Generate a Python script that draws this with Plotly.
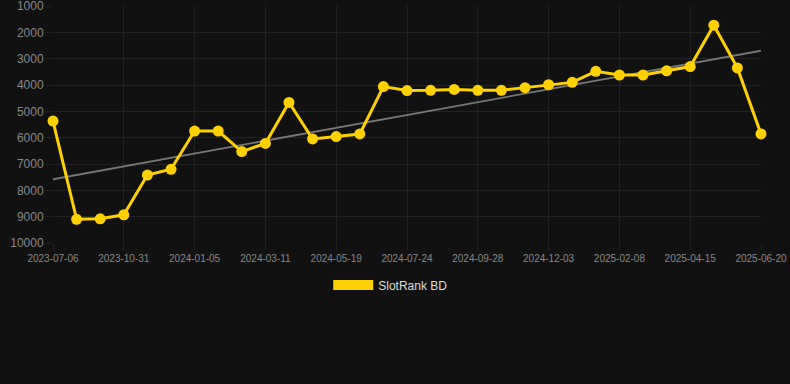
import numpy as np
import plotly.graph_objects as go

dates = [
    "2023-07-06", "2023-08-14", "2023-09-22", "2023-10-31", "2023-11-22", "2023-12-14",
    "2024-01-05", "2024-01-27", "2024-02-18", "2024-03-11", "2024-04-03", "2024-04-26",
    "2024-05-19", "2024-06-10", "2024-07-02", "2024-07-24", "2024-08-15", "2024-09-06",
    "2024-09-28", "2024-10-20", "2024-11-11", "2024-12-03", "2024-12-25", "2025-01-16",
    "2025-02-08", "2025-03-02", "2025-03-24", "2025-04-15", "2025-05-07", "2025-05-29",
    "2025-06-20",
]
rank = [
    5370, 9100, 9080, 8930, 7420, 7200,
    5750, 5750, 6530, 6220, 4660, 6050,
    5960, 5860, 4060, 4210, 4200, 4170,
    4200, 4200, 4100, 3990, 3900, 3480,
    3620, 3620, 3460, 3300, 1730, 3350,
    5860,
]
tick_labels = dates[::3]
y_ticks = [1000, 2000, 3000, 4000, 5000, 6000, 7000, 8000, 9000, 10000]
series_name = "SlotRank BD"

YELLOW = "#FFD100"
BG = "#111111"
GRID = "#222222"

idx = np.arange(len(rank))
slope, intercept = np.polyfit(idx, rank, 1)
trend_x = [dates[0], dates[-1]]
trend_y = [intercept + slope * idx[0], intercept + slope * idx[-1]]

fig = go.Figure()
fig.add_trace(go.Scatter(
    x=trend_x, y=trend_y, mode="lines",
    line=dict(color="#777777", width=1.8),
    showlegend=False, hoverinfo="skip",
))
fig.add_trace(go.Scatter(
    x=dates, y=rank, mode="lines+markers",
    line=dict(color=YELLOW, width=3),
    marker=dict(color=YELLOW, size=11),
    cliponaxis=False, showlegend=False, name=series_name,
))
# legend-only entry
fig.add_trace(go.Scatter(
    x=[None], y=[None], mode="lines",
    line=dict(color=YELLOW, width=12),
    name=series_name, showlegend=True,
))

fig.update_layout(
    width=790, height=384,
    paper_bgcolor=BG, plot_bgcolor=BG,
    margin=dict(l=53, r=29, t=6, b=141, autoexpand=False),
    font=dict(family="Liberation Sans, Arial, sans-serif", color="#888888"),
    showlegend=True,
    legend=dict(
        orientation="h", x=0.477, xanchor="center", y=-0.177, yanchor="middle",
        font=dict(size=12, color="#dddddd"), itemwidth=40,
        bgcolor="rgba(0,0,0,0)",
    ),
    xaxis=dict(
        type="category", categoryorder="array", categoryarray=dates,
        range=[0, len(dates) - 1], automargin=False,
        tickmode="array", tickvals=tick_labels, ticktext=tick_labels,
        tickfont=dict(size=10, color="#888888"),
        showgrid=True, gridcolor=GRID, gridwidth=1,
        ticks="outside", ticklen=6, tickcolor=GRID,
        zeroline=False, showline=False, ticklabeloverflow="allow",
    ),
    yaxis=dict(
        range=[10000, 1000], automargin=False,
        tickmode="array", tickvals=y_ticks, ticktext=[str(v) for v in y_ticks],
        tickfont=dict(size=12, color="#888888"),
        showgrid=True, gridcolor=GRID, gridwidth=1,
        ticks="outside", ticklen=6, tickcolor=GRID,
        zeroline=False, showline=False, ticklabeloverflow="allow",
    ),
)

fig.write_html(
    "out.html",
    config={"displayModeBar": False},
    post_script="document.body.style.margin='0';document.body.style.background='#111111';",
)
